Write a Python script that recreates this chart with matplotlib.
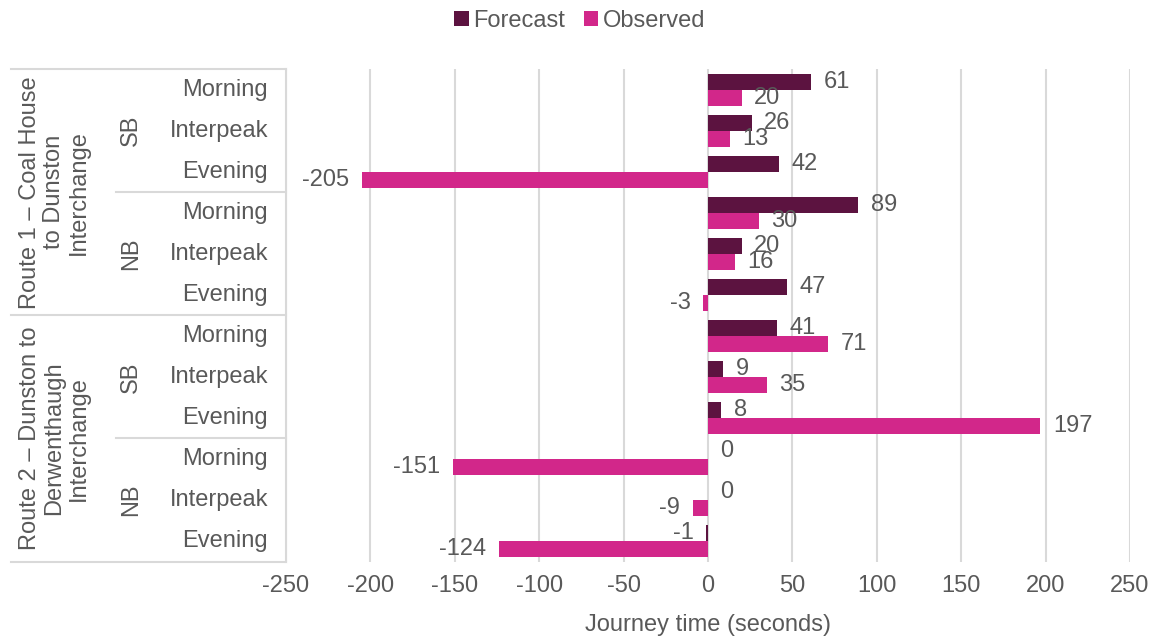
import numpy as np
import matplotlib.pyplot as plt
from matplotlib.lines import Line2D

plt.rcParams["font.family"] = ["Liberation Sans", "DejaVu Sans"]
plt.rcParams["axes.unicode_minus"] = False

periods = ["Morning", "Interpeak", "Evening"] * 4
directions = ["SB", "NB", "SB", "NB"]
routes = [
    "Route 1 – Coal House\nto Dunston\nInterchange",
    "Route 2 – Dunston to\nDerwenthaugh\nInterchange",
]
forecast = [61, 26, 42, 89, 20, 47, 41, 9, 8, 0, 0, -1]
observed = [20, 13, -205, 30, 16, -3, 71, 35, 197, -151, -9, -124]

c_fc = "#5c1340"
c_ob = "#d2278a"
txt = "#595959"
grid = "#d9d9d9"
fs = 17

fig, ax = plt.subplots(figsize=(11.53, 6.41), dpi=100)
fig.subplots_adjust(left=0.248, right=0.980, top=0.892, bottom=0.124)

y = np.arange(len(periods))
h = 0.39
ax.barh(y - h / 2, forecast, height=h, color=c_fc, label="Forecast", zorder=3)
ax.barh(y + h / 2, observed, height=h, color=c_ob, label="Observed", zorder=3)

for i in range(len(periods)):
    for val, yy in ((forecast[i], y[i] - h / 2), (observed[i], y[i] + h / 2)):
        if val >= 0:
            ax.annotate(str(val), (val, yy), xytext=(9, 0), textcoords="offset points",
                        ha="left", va="center", fontsize=fs, color=txt)
        else:
            ax.annotate(str(val), (val, yy), xytext=(-9, 0), textcoords="offset points",
                        ha="right", va="center", fontsize=fs, color=txt)

ax.set_xlim(-250, 250)
ax.set_xticks(np.arange(-250, 251, 50))
ax.set_ylim(len(periods) - 0.5, -0.5)
ax.set_yticks([])
ax.grid(axis="x", color=grid, linewidth=1.5, zorder=0)
for s in ["top", "right", "bottom"]:
    ax.spines[s].set_visible(False)
ax.spines["left"].set_color(grid)
ax.spines["left"].set_linewidth(1.5)
ax.tick_params(axis="x", length=0, labelsize=fs, labelcolor=txt, pad=10)
ax.set_xlabel("Journey time (seconds)", fontsize=fs, color=txt, labelpad=12)

# hierarchical category labels
tr = ax.get_yaxis_transform()
x_route, x_dir = -0.3254, -0.2012
for i, p in enumerate(periods):
    ax.text(-0.021, i, p, transform=tr, ha="right", va="center", fontsize=fs, color=txt)
for j, d in enumerate(directions):
    ax.text(-0.1834, j * 3 + 1, d, transform=tr, ha="center", va="center",
            rotation=90, fontsize=fs, color=txt)
for k, r in enumerate(routes):
    ax.text(-0.2746, k * 6 + 2.5, r, transform=tr, ha="center", va="center",
            rotation=90, fontsize=fs, color=txt, linespacing=1.15, multialignment="center")
for yb in [-0.5, 5.5, 11.5]:
    ax.add_line(Line2D([x_route, 0], [yb, yb], transform=tr, color=grid, lw=1.5, clip_on=False))
for yb in [2.5, 8.5]:
    ax.add_line(Line2D([x_dir, 0], [yb, yb], transform=tr, color=grid, lw=1.5, clip_on=False))

leg = fig.legend(loc="upper center", bbox_to_anchor=(0.503, 1.018), ncol=2, frameon=False,
                 fontsize=fs, handlelength=0.6, handleheight=0.6, handletextpad=0.2,
                 columnspacing=0.8)
for t in leg.get_texts():
    t.set_color(txt)

plt.savefig("out.png", dpi=100)
